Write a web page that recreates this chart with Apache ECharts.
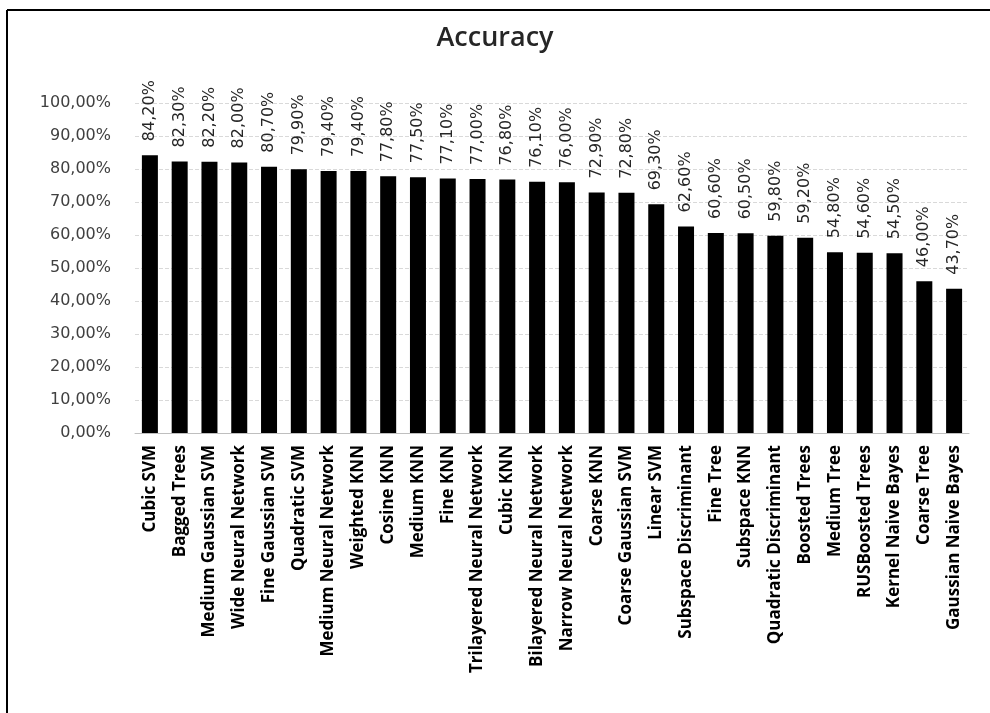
<!DOCTYPE html>
<html>
<head>
<meta charset="utf-8">
<script src="https://cdn.jsdelivr.net/npm/echarts@6/dist/echarts.min.js"></script>
<style>html,body{margin:0;padding:0;background:#fff}#c{width:990px;height:713px}</style>
</head>
<body>
<div id="c"></div>
<script>
const categories = ["Cubic SVM","Bagged Trees","Medium Gaussian SVM","Wide Neural Network","Fine Gaussian SVM","Quadratic SVM","Medium Neural Network","Weighted KNN","Cosine KNN","Medium KNN","Fine KNN","Trilayered Neural Network","Cubic KNN","Bilayered Neural Network","Narrow Neural Network","Coarse KNN","Coarse Gaussian SVM","Linear SVM","Subspace Discriminant","Fine Tree","Subspace KNN","Quadratic Discriminant","Boosted Trees","Medium Tree","RUSBoosted Trees","Kernel Naive Bayes","Coarse Tree","Gaussian Naive Bayes"];
const accuracy = [84.2,82.3,82.2,82.0,80.7,79.9,79.4,79.4,77.8,77.5,77.1,77.0,76.8,76.1,76.0,72.9,72.8,69.3,62.6,60.6,60.5,59.8,59.2,54.8,54.6,54.5,46.0,43.7];
const yMin = 0, yMax = 100, yStep = 10;

const fmt = v => v.toFixed(2).replace('.', ',') + '%';
const chart = echarts.init(document.getElementById('c'));
chart.setOption({
  animation: false,
  backgroundColor: '#fff',
  title: {
    text: 'Accuracy', left: 'center', top: 20,
    textStyle: { fontFamily: 'Open Sans', fontSize: 27, fontWeight: 600, color: '#262626' }
  },
  graphic: [
    { type: 'line', shape: { x1: 7, y1: 10, x2: 990, y2: 10 }, style: { stroke: '#000', lineWidth: 2 } },
    { type: 'line', shape: { x1: 7, y1: 10, x2: 7, y2: 713 }, style: { stroke: '#000', lineWidth: 2 } }
  ],
  grid: { left: 135, right: 21, top: 103, bottom: 280, containLabel: false },
  xAxis: {
    type: 'category', data: categories,
    axisLine: { show: true, lineStyle: { color: '#bfbfbf', width: 1 } },
    axisTick: { show: false },
    axisLabel: { rotate: 90, interval: 0, margin: 12, fontFamily: 'Open Sans', fontWeight: 'bold', fontSize: 17, color: '#000' }
  },
  yAxis: {
    type: 'value', min: yMin, max: yMax, interval: yStep,
    axisLine: { show: false }, axisTick: { show: false },
    splitLine: { show: true, lineStyle: { color: '#d9d9d9', type: 'dashed' } },
    axisLabel: { formatter: fmt, fontFamily: 'DejaVu Sans', fontSize: 16, color: '#404040', margin: 24 }
  },
  series: [{
    type: 'bar', data: accuracy, barWidth: 16,
    itemStyle: { color: '#000' },
    label: {
      show: true, position: 'top', rotate: 90, align: 'left', verticalAlign: 'middle', distance: 14,
      formatter: p => fmt(p.value), fontFamily: 'DejaVu Sans', fontSize: 16, color: '#262626'
    }
  }]
});
</script>
</body>
</html>
